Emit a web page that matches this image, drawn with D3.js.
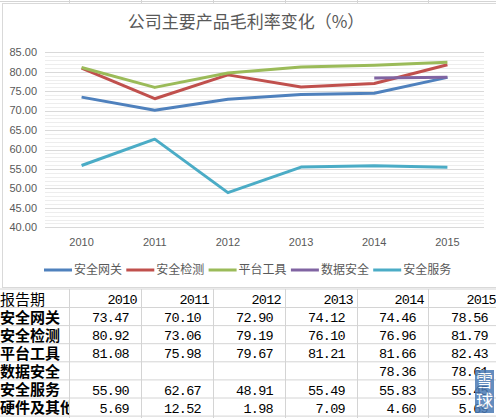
<!DOCTYPE html>
<html>
<head>
<meta charset="utf-8">
<script src="https://cdn.jsdelivr.net/npm/d3@7"></script>
<style>
  body { margin: 0; background: #fff; }
  svg { display: block; }
</style>
</head>
<body>
<div id="chart"></div>
<script>
// chart data
const years = ["2010", "2011", "2012", "2013", "2014", "2015"];
const seriesNames = ["安全网关", "安全检测", "平台工具", "数据安全", "安全服务"];
const seriesColors = ["#4f81bd", "#c0504d", "#9bbb59", "#8064a2", "#4bacc6"];
const gateway  = [73.47, 70.10, 72.90, 74.12, 74.46, 78.56];
const testing  = [80.92, 73.06, 79.19, 76.10, 76.96, 81.79];
const platform = [81.08, 75.98, 79.67, 81.21, 81.66, 82.43];
const dataSec  = [null, null, null, null, 78.36, 78.61];
const service  = [55.90, 62.67, 48.91, 55.49, 55.83, 55.45];
const hardware = [5.69, 12.52, 1.98, 7.09, 4.60, 5.69];
const yTicks = [40, 45, 50, 55, 60, 65, 70, 75, 80, 85];

// table rows below the chart (last one not plotted)
const tableLabels = ["安全网关", "安全检测", "平台工具", "数据安全", "安全服务", "硬件及其他"];
const tableValues = [gateway, testing, platform, dataSec, service, hardware];
const plotted = [gateway, testing, platform, dataSec, service];

const W = 496, H = 418;
const svg = d3.select("#chart").append("svg")
    .attr("width", W)
    .attr("height", H);

const gridColor = "#d4d4d4";
const textGray = "#595959";

// --- spreadsheet grid ---
const colEdges = [0, 69, 141, 213, 285, 357, 428, 500];
const rowEdges = [289, 307.5, 325.6, 343.7, 361.8, 379.9, 398, 416.1];

svg.append("line")
    .attr("x1", 0).attr("x2", W).attr("y1", 1.5).attr("y2", 1.5)
    .attr("stroke", gridColor);
svg.selectAll(".colTop").data(colEdges.slice(1)).enter().append("line")
    .attr("x1", d => d + 0.5).attr("x2", d => d + 0.5)
    .attr("y1", 0).attr("y2", 4)
    .attr("stroke", gridColor);

// --- chart area ---
svg.append("rect")
    .attr("x", 2.5).attr("y", 3.5)
    .attr("width", 520).attr("height", 284)
    .attr("fill", "#fff")
    .attr("stroke", "#d9d9d9");

const x = d3.scaleBand().domain(years).range([45, 484]);
const y = d3.scaleLinear().domain([40, 85]).range([227.3, 52.3]);

// minor gridlines every 1, major every 5
const minor = d3.range(40, 86).filter(v => v % 5 !== 0);
svg.append("g").selectAll("line").data(minor).enter().append("line")
    .attr("x1", 45).attr("x2", 484)
    .attr("y1", d => Math.round(y(d)) + 0.5).attr("y2", d => Math.round(y(d)) + 0.5)
    .attr("stroke", "#ededed");
svg.append("g").selectAll("line").data(yTicks).enter().append("line")
    .attr("x1", 45).attr("x2", 484)
    .attr("y1", d => Math.round(y(d)) + 0.5).attr("y2", d => Math.round(y(d)) + 0.5)
    .attr("stroke", "#d9d9d9");

// y labels
svg.append("g").selectAll("text").data(yTicks).enter().append("text")
    .attr("x", 37)
    .attr("y", d => y(d))
    .attr("dy", "0.35em")
    .attr("text-anchor", "end")
    .attr("font-family", "Liberation Sans, Arial, sans-serif")
    .attr("font-size", 11)
    .attr("fill", textGray)
    .text(d => d3.format(".2f")(d));

// x labels
svg.append("g").selectAll("text").data(years).enter().append("text")
    .attr("x", d => x(d) + x.bandwidth() / 2)
    .attr("y", 242)
    .attr("dy", "0.35em")
    .attr("text-anchor", "middle")
    .attr("font-family", "Liberation Sans, Arial, sans-serif")
    .attr("font-size", 11)
    .attr("fill", textGray)
    .text(d => d);

// title
svg.append("text")
    .attr("x", 246).attr("y", 22.5)
    .attr("dy", "0.35em")
    .attr("text-anchor", "middle")
    .attr("font-family", "Noto Sans CJK SC, sans-serif")
    .attr("font-size", 17)
    .attr("fill", textGray)
    .text("公司主要产品毛利率变化（%）");

// lines
const line = d3.line()
    .defined(d => d != null)
    .x((d, i) => x(years[i]) + x.bandwidth() / 2)
    .y(d => y(d));

svg.append("g").selectAll("path").data(plotted).enter().append("path")
    .attr("d", d => line(d))
    .attr("fill", "none")
    .attr("stroke", (d, i) => seriesColors[i])
    .attr("stroke-width", 3)
    .attr("stroke-linejoin", "round");

// legend
const legend = svg.append("g").selectAll("g").data(seriesNames).enter().append("g")
    .attr("transform", (d, i) => `translate(${44 + i * 82.3}, 270)`);
legend.append("line")
    .attr("x1", 0).attr("x2", 28)
    .attr("stroke", (d, i) => seriesColors[i])
    .attr("stroke-width", 3);
legend.append("text")
    .attr("x", 30)
    .attr("dy", "0.35em")
    .attr("font-family", "Noto Sans CJK SC, sans-serif")
    .attr("font-size", 12)
    .attr("fill", textGray)
    .text(d => d);

// --- table ---
svg.append("g").selectAll("line").data(rowEdges).enter().append("line")
    .attr("x1", 0).attr("x2", W)
    .attr("y1", d => d).attr("y2", d => d)
    .attr("stroke", gridColor);
svg.append("g").selectAll("line").data(colEdges.slice(1)).enter().append("line")
    .attr("x1", d => d + 0.5).attr("x2", d => d + 0.5)
    .attr("y1", rowEdges[0]).attr("y2", H)
    .attr("stroke", gridColor);

svg.append("clipPath").attr("id", "firstCol")
  .append("rect").attr("x", 0).attr("y", 280).attr("width", 69).attr("height", 140);

const monoFont = "Liberation Mono, DejaVu Sans Mono, monospace";

// header row
svg.append("text")
    .attr("x", 0).attr("y", (rowEdges[0] + rowEdges[1]) / 2 + 1)
    .attr("dy", "0.35em")
    .attr("font-family", "Noto Sans CJK SC, sans-serif")
    .attr("font-size", 15)
    .attr("fill", "#000")
    .text("报告期");
svg.append("g").selectAll("text").data(years).enter().append("text")
    .attr("x", (d, i) => colEdges[i + 2] - 4)
    .attr("y", rowEdges[1] - 3.5)
    .attr("text-anchor", "end")
    .attr("font-family", monoFont)
    .attr("font-size", 13.5)
    .attr("letter-spacing", -0.7)
    .attr("fill", "#000")
    .text(d => d);

// data rows
const rows = svg.append("g").selectAll("g").data(tableLabels).enter().append("g");
rows.append("text")
    .attr("x", 0)
    .attr("y", (d, i) => (rowEdges[i + 1] + rowEdges[i + 2]) / 2 + 1)
    .attr("dy", "0.35em")
    .attr("clip-path", "url(#firstCol)")
    .attr("font-family", "Noto Sans CJK SC, sans-serif")
    .attr("font-size", 15)
    .attr("font-weight", "bold")
    .attr("fill", "#000")
    .text(d => d);
rows.each(function(d, r) {
  d3.select(this).selectAll(".val").data(tableValues[r]).enter().append("text")
      .attr("x", (v, i) => colEdges[i + 2] - 12)
      .attr("y", rowEdges[r + 2] - 3.5)
      .attr("text-anchor", "end")
      .attr("font-family", monoFont)
      .attr("font-size", 13.5)
      .attr("letter-spacing", -0.7)
      .attr("fill", "#000")
      .text(v => v == null ? "" : d3.format(".2f")(v));
});

// watermark tag
const wm = svg.append("g").attr("opacity", 0.85);
wm.append("rect")
    .attr("x", 475).attr("y", 370).attr("width", 19).attr("height", 43)
    .attr("fill", "#4a7ab5");
wm.selectAll("text").data(["雪", "球"]).enter().append("text")
    .attr("x", 484.5).attr("y", (d, i) => 381 + i * 20)
    .attr("dy", "0.35em")
    .attr("text-anchor", "middle")
    .attr("font-family", "Noto Sans CJK SC, sans-serif")
    .attr("font-size", 17)
    .attr("fill", "#fff")
    .text(d => d);
</script>
</body>
</html>
